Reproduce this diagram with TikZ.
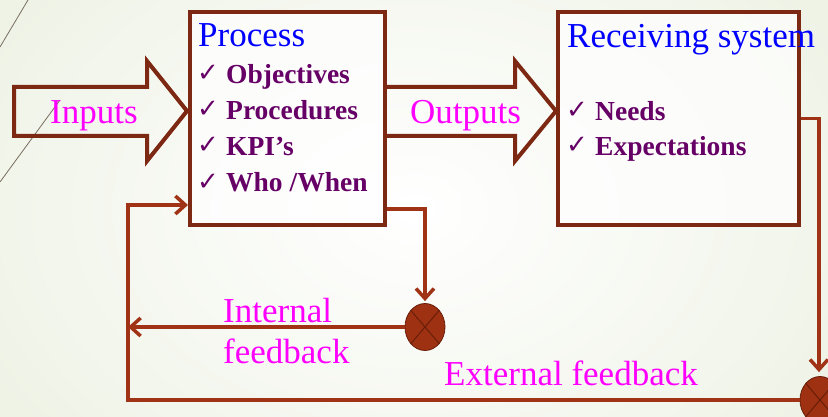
\documentclass[tikz,border=0pt]{standalone}
\usepackage{fontspec}
\setmainfont{Liberation Serif}
\newfontfamily\symf{DejaVu Sans}
\usetikzlibrary{arrows.meta,shapes.geometric,calc}
\definecolor{bgc}{RGB}{236,241,226}
\definecolor{boxc}{RGB}{125,40,18}
\definecolor{connc}{RGB}{160,50,22}
\definecolor{sumc}{RGB}{158,49,18}
\definecolor{xc}{RGB}{105,30,10}
\definecolor{purp}{RGB}{102,0,102}
\definecolor{magc}{RGB}{255,0,255}
\definecolor{bluc}{RGB}{0,0,255}
\tikzset{
  box/.style={draw=boxc,line width=4pt,fill=white,fill opacity=0.7,draw opacity=1,inner sep=0pt,anchor=north west},
  blockarrow/.style={draw=boxc,line width=4pt,line join=miter},
  conn/.style={draw=connc,line width=3.5pt},
  tip/.style={-{Straight Barb[length=10pt,width=18pt,line width=3.5pt]}},
  sumj/.style={ellipse,minimum width=40pt,minimum height=47pt,inner sep=0pt,fill=sumc,draw=xc,line width=0.8pt},
  xline/.style={draw=xc,line width=1pt},
  lbl/.style={text=magc,inner sep=0pt,anchor=base west,font=\fontsize{35}{40}\selectfont},
  ttl/.style={text=bluc,inner sep=0pt,anchor=base west,font=\fontsize{35}{40}\selectfont},
  itm/.style={text=purp,inner sep=0pt,anchor=base west,font=\fontsize{27.5}{30}\selectfont\bfseries},
  chk/.style={text=purp,inner sep=0pt,anchor=base west,font=\fontsize{26}{28}\selectfont\symf},
  deco/.style={draw={rgb,255:red,120;green,110;blue,96},line width=0.8pt}
}
\begin{document}
\begin{tikzpicture}[x=1pt,y=-1pt]
\useasboundingbox (0,0) rectangle (828,417);
\clip (0,0) rectangle (828,417);
\shade[inner color=white,outer color=bgc] (-150,-200) rectangle (978,617);
% decorative lines
\draw[deco] (28,0) -- (0,47);
\draw[deco] (60,100) -- (0,182);
% boxes
\node[box,minimum width=195pt,minimum height=213pt] (proc) at (188,10) {};
\node[box,minimum width=241pt,minimum height=213pt] (recv) at (556,10) {};
% block arrows
\draw[blockarrow] (14,87) -- (147,87) -- (147,61) -- (187,111) -- (147,161) -- (147,136) -- (14,136) -- cycle;
\draw[blockarrow] (385,87) -- (515,87) -- (515,61) -- (556,111) -- (515,161) -- (515,136) -- (385,136);
% texts
\node[lbl] (tin) at (50,124) {Inputs};
\node[lbl] (tout) at (410,124) {Outputs};
\node[ttl] (tproc) at (198,47) {Process};
\node[ttl] (trecv) at (567,48) {Receiving system};
\node[chk] (k1) at (197,82) {✓};
\node[itm] (i1) at (226,84) {Objectives};
\node[chk] (k2) at (197,118) {✓};
\node[itm] (i2) at (226,120) {Procedures};
\node[chk] (k3) at (197,154) {✓};
\node[itm] (i3) at (226,156) {KPI’s};
\node[chk] (k4) at (197,190) {✓};
\node[itm] (i4) at (226,192) {Who /When};
\node[chk] (k5) at (566,119) {✓};
\node[itm] (n1) at (595,121) {Needs};
\node[chk] (k6) at (566,154) {✓};
\node[itm] (n2) at (595,156) {Expectations};
\node[lbl] (tint1) at (223,322) {Internal};
\node[lbl] (tint2) at (223,363) {feedback};
\node[lbl] (text) at (444,385) {External feedback};
% summing junctions
\node[sumj] (c1) at (425,327) {};
\draw[xline] (c1.north west) -- (c1.south east);
\draw[xline] (c1.north east) -- (c1.south west);
\node[sumj] (c2) at (820,400) {};
\draw[xline] (c2.north west) -- (c2.south east);
\draw[xline] (c2.north east) -- (c2.south west);
% connectors
\coordinate (fbT) at (128,205);
\draw[conn,tip] ($(proc.south east)+(0,-18)$) -| ($(c1.north)+(0,-2)$);
\draw[conn,tip] (c1.west) -- (c1.west -| fbT);
\draw[conn,tip] (c2.west) -| (fbT) -- (proc.west |- fbT);
\draw[conn,tip] (recv.east) -| ($(c2.north)+(-1,-4)$);
\end{tikzpicture}
\end{document}
